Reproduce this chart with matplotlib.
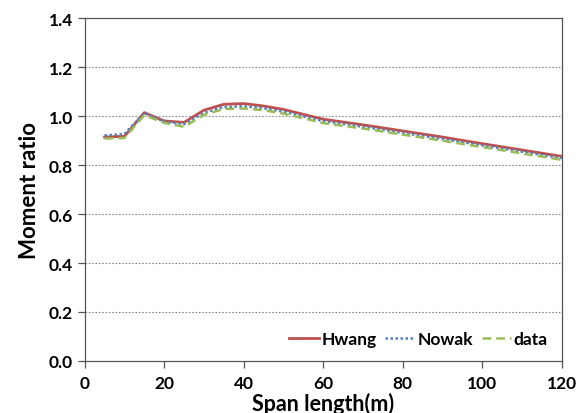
import matplotlib
matplotlib.use('Agg')
import matplotlib.pyplot as plt

plt.rcParams['font.family'] = ['Lato', 'DejaVu Sans']

# span lengths (m) and moment ratios for each model
span = [5, 10, 15, 20, 25, 30, 35, 40, 45, 50, 55, 60, 70, 80, 90, 100, 110, 120]
hwang = [0.915, 0.918, 1.015, 0.981, 0.975, 1.025, 1.049, 1.052, 1.042, 1.028,
         1.008, 0.988, 0.965, 0.940, 0.915, 0.888, 0.862, 0.836]
nowak = [0.922, 0.927, 1.014, 0.978, 0.968, 1.014, 1.038, 1.041, 1.033, 1.019,
         1.000, 0.980, 0.957, 0.932, 0.907, 0.881, 0.855, 0.829]
data = [0.909, 0.911, 1.005, 0.973, 0.957, 1.006, 1.030, 1.032, 1.025, 1.011,
        0.992, 0.972, 0.950, 0.925, 0.900, 0.874, 0.848, 0.822]

xticks = [0, 20, 40, 60, 80, 100, 120]
yticks = [0.0, 0.2, 0.4, 0.6, 0.8, 1.0, 1.2, 1.4]

fig = plt.figure(figsize=(5.84, 4.14), dpi=100)
ax = fig.add_axes([0.145, 0.126, 0.817, 0.827])

ax.plot(span, hwang, color='#C0504D', lw=2.0, label='Hwang')
ax.plot(span, nowak, color='#4F81BD', lw=1.8, ls=(0, (1, 1)), label='Nowak')
ax.plot(span, data, color='#9BBB59', lw=1.8, ls=(0, (3.5, 2)), label='data')

ax.set_xlim(0, 120)
ax.set_ylim(0, 1.4)
ax.set_xticks(xticks)
ax.set_yticks(yticks)
ax.set_yticklabels([f'{v:.1f}' for v in yticks])

for v in yticks[1:-1]:
    ax.axhline(v, color='#888888', lw=0.8, ls=(0, (1.5, 1.5)), zorder=0)

for s in ax.spines.values():
    s.set_color('#555555')
    s.set_linewidth(0.9)

ax.tick_params(axis='both', direction='out', length=5, width=0.9, color='#555555',
               labelsize=12.5)
ax.tick_params(axis='x', pad=5)
for lbl in ax.get_xticklabels() + ax.get_yticklabels():
    lbl.set_fontweight('bold')

ax.set_ylabel('Moment ratio', fontsize=16, fontweight='bold', labelpad=6)
ax.set_xlabel('Span length(m)', fontsize=15.5, fontweight='bold', labelpad=1)

leg = ax.legend(loc='lower right', ncol=3, frameon=False,
                handlelength=1.7, handletextpad=0.15, columnspacing=0.5,
                borderaxespad=0.4, prop={'weight': 'bold', 'size': 12.5})

fig.savefig('out.png', dpi=100)
